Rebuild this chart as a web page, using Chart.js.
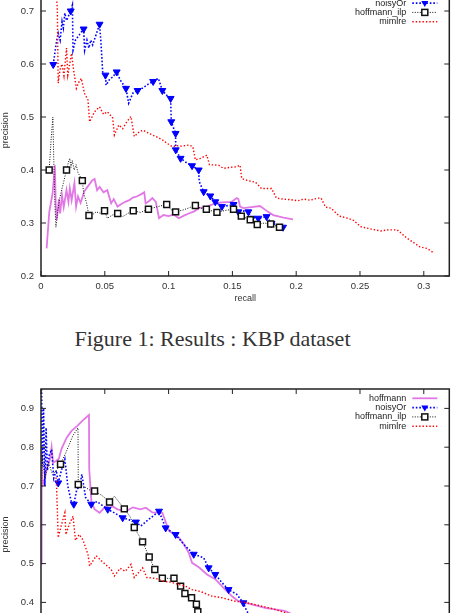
<!DOCTYPE html>
<html>
<head>
<meta charset="utf-8">
<script src="https://cdn.jsdelivr.net/npm/chart.js@4.4.0/dist/chart.umd.min.js"></script>
<style>
  html, body { margin: 0; padding: 0; width: 455px; height: 613px; overflow: hidden; background: #fff; }
  .wrap { position: absolute; left: 0; width: 455px; height: 360px; }
  #kbp-wrap { top: -40px; }
  #riedel-wrap { top: 360px; }
  #caption { position: absolute; left: 0; top: 327px; width: 425px; line-height: 24px; text-align: center;
             font-family: "Liberation Serif", "Times New Roman", serif; font-size: 22px; color: #333; }
</style>
</head>
<body>
<div id="kbp-wrap" class="wrap"><canvas id="kbp" width="455" height="360"></canvas></div>
<div id="caption">Figure 1: Results : KBP dataset</div>
<div id="riedel-wrap" class="wrap"><canvas id="riedel" width="455" height="360"></canvas></div>
<script>
// ---- shared axis / legend text ----
const xTickValues = [0, 0.05, 0.1, 0.15, 0.2, 0.25, 0.3];
const kbpYTickValues = [0.2, 0.3, 0.4, 0.5, 0.6, 0.7];
const riedelYTickValues = [0.2, 0.3, 0.4, 0.5, 0.6, 0.7, 0.8, 0.9];
const legendLabels = ['hoffmann', 'noisyOr', 'hoffmann_ilp', 'mimlre'];

// ---- KBP (top chart) ----
const kbpHoffmannRecall = [0.0044, 0.0065, 0.0091, 0.0109, 0.0115, 0.0123, 0.0128, 0.0140, 0.0150, 0.0165, 0.0178, 0.0200, 0.0215, 0.0226, 0.0240, 0.0262, 0.0275, 0.0290, 0.0310, 0.0340, 0.0370, 0.0400, 0.0420, 0.0440, 0.0460, 0.0490, 0.0520, 0.0550, 0.0570, 0.0600, 0.0630, 0.0660, 0.0692, 0.0720, 0.0750, 0.0790, 0.0809, 0.0820, 0.0850, 0.0873, 0.0900, 0.0925, 0.0960, 0.1000, 0.1040, 0.1080, 0.1120, 0.1158, 0.1200, 0.1236, 0.1300, 0.1366, 0.1420, 0.1495, 0.1534, 0.1547, 0.1560, 0.1586, 0.1650, 0.1716, 0.1780, 0.1820, 0.1900, 0.1975];
const kbpHoffmannPrecision = [0.252, 0.321, 0.356, 0.409, 0.337, 0.306, 0.315, 0.345, 0.318, 0.352, 0.330, 0.362, 0.340, 0.365, 0.343, 0.375, 0.331, 0.350, 0.338, 0.360, 0.370, 0.380, 0.383, 0.362, 0.368, 0.358, 0.362, 0.337, 0.345, 0.331, 0.336, 0.340, 0.343, 0.348, 0.350, 0.355, 0.358, 0.337, 0.342, 0.347, 0.340, 0.309, 0.315, 0.313, 0.316, 0.309, 0.314, 0.318, 0.322, 0.328, 0.331, 0.337, 0.339, 0.340, 0.347, 0.345, 0.331, 0.328, 0.330, 0.332, 0.321, 0.315, 0.310, 0.307];

const kbpNoisyOrRecall = [0.0096, 0.0120, 0.0135, 0.0150, 0.0165, 0.0175, 0.0187, 0.0200, 0.0233, 0.0246, 0.0251, 0.0270, 0.0300, 0.0334, 0.0342, 0.0360, 0.0375, 0.0390, 0.0405, 0.0459, 0.0470, 0.0484, 0.0505, 0.0510, 0.0540, 0.0560, 0.0593, 0.0620, 0.0666, 0.0687, 0.0720, 0.0757, 0.0800, 0.0840, 0.0879, 0.0920, 0.0951, 0.0990, 0.1016, 0.1021, 0.1055, 0.1056, 0.1094, 0.1145, 0.1184, 0.1236, 0.1240, 0.1275, 0.1327, 0.1366, 0.1418, 0.1470, 0.1509, 0.1547, 0.1600, 0.1625, 0.1651, 0.1703, 0.1768, 0.1807, 0.1850, 0.1897];
const kbpNoisyOrPrecision = [0.599, 0.640, 0.658, 0.645, 0.680, 0.668, 0.696, 0.682, 0.700, 0.711, 0.626, 0.645, 0.655, 0.666, 0.626, 0.645, 0.630, 0.645, 0.636, 0.675, 0.640, 0.582, 0.579, 0.560, 0.572, 0.575, 0.585, 0.570, 0.554, 0.526, 0.545, 0.550, 0.555, 0.562, 0.567, 0.573, 0.550, 0.540, 0.535, 0.491, 0.469, 0.438, 0.422, 0.413, 0.408, 0.400, 0.378, 0.359, 0.351, 0.340, 0.331, 0.333, 0.335, 0.321, 0.323, 0.321, 0.309, 0.309, 0.312, 0.299, 0.297, 0.292];
const kbpNoisyOrMarkRecall = [0.0096, 0.0233, 0.0334, 0.0459, 0.0505, 0.0593, 0.0666, 0.0757, 0.0879, 0.0951, 0.1016, 0.1021, 0.1055, 0.1056, 0.1094, 0.1184, 0.1236, 0.1275, 0.1327, 0.1366, 0.1418, 0.1509, 0.1547, 0.1625, 0.1651, 0.1703, 0.1768, 0.1807, 0.1897];
const kbpNoisyOrMarkPrecision = [0.599, 0.700, 0.666, 0.675, 0.579, 0.585, 0.554, 0.550, 0.567, 0.550, 0.535, 0.491, 0.469, 0.438, 0.422, 0.408, 0.400, 0.359, 0.351, 0.340, 0.331, 0.335, 0.321, 0.321, 0.309, 0.309, 0.312, 0.299, 0.292];

const kbpIlpRecall = [0.0064, 0.0080, 0.0093, 0.0100, 0.0110, 0.0117, 0.0130, 0.0145, 0.0160, 0.0175, 0.0190, 0.0200, 0.0215, 0.0226, 0.0235, 0.0245, 0.0260, 0.0275, 0.0290, 0.0324, 0.0335, 0.0342, 0.0355, 0.0376, 0.0400, 0.0433, 0.0470, 0.0498, 0.0520, 0.0560, 0.0601, 0.0640, 0.0680, 0.0723, 0.0780, 0.0842, 0.0900, 0.0985, 0.1020, 0.1055, 0.1120, 0.1210, 0.1250, 0.1296, 0.1379, 0.1450, 0.1509, 0.1570, 0.1640, 0.1695, 0.1750, 0.1800, 0.1869];
const kbpIlpPrecision = [0.400, 0.460, 0.500, 0.420, 0.330, 0.292, 0.320, 0.345, 0.360, 0.375, 0.390, 0.400, 0.415, 0.422, 0.405, 0.418, 0.400, 0.410, 0.395, 0.380, 0.355, 0.350, 0.340, 0.314, 0.315, 0.321, 0.318, 0.323, 0.309, 0.315, 0.318, 0.312, 0.318, 0.323, 0.320, 0.326, 0.330, 0.335, 0.325, 0.321, 0.325, 0.333, 0.328, 0.326, 0.320, 0.324, 0.326, 0.313, 0.306, 0.297, 0.300, 0.298, 0.292];
const kbpIlpMarkRecall = [0.0064, 0.0200, 0.0324, 0.0376, 0.0498, 0.0601, 0.0723, 0.0842, 0.0985, 0.1055, 0.1210, 0.1296, 0.1379, 0.1509, 0.1570, 0.1640, 0.1695, 0.1800, 0.1869];
const kbpIlpMarkPrecision = [0.400, 0.400, 0.380, 0.314, 0.323, 0.318, 0.323, 0.326, 0.335, 0.321, 0.333, 0.326, 0.320, 0.326, 0.313, 0.306, 0.297, 0.298, 0.292];

const kbpMimlreRecall = [0.0118, 0.0128, 0.0135, 0.0150, 0.0165, 0.0180, 0.0200, 0.0210, 0.0225, 0.0239, 0.0255, 0.0277, 0.0295, 0.0316, 0.0340, 0.0368, 0.0381, 0.0420, 0.0459, 0.0490, 0.0520, 0.0562, 0.0575, 0.0610, 0.0640, 0.0670, 0.0705, 0.0731, 0.0770, 0.0800, 0.0840, 0.0873, 0.0910, 0.0951, 0.0990, 0.1029, 0.1060, 0.1100, 0.1158, 0.1190, 0.1210, 0.1250, 0.1300, 0.1320, 0.1392, 0.1431, 0.1480, 0.1534, 0.1560, 0.1573, 0.1620, 0.1680, 0.1729, 0.1807, 0.1845, 0.1900, 0.1960, 0.2014, 0.2060, 0.2110, 0.2169, 0.2195, 0.2230, 0.2273, 0.2338, 0.2403, 0.2450, 0.2506, 0.2580, 0.2662, 0.2720, 0.2792, 0.2870, 0.2921, 0.2970, 0.3025, 0.3077];
const kbpMimlrePrecision = [0.750, 0.700, 0.564, 0.590, 0.600, 0.578, 0.630, 0.579, 0.600, 0.620, 0.590, 0.554, 0.565, 0.573, 0.545, 0.532, 0.491, 0.510, 0.519, 0.505, 0.510, 0.498, 0.466, 0.485, 0.478, 0.490, 0.501, 0.463, 0.472, 0.475, 0.470, 0.466, 0.462, 0.457, 0.450, 0.444, 0.446, 0.445, 0.447, 0.444, 0.419, 0.422, 0.428, 0.410, 0.409, 0.403, 0.405, 0.406, 0.409, 0.384, 0.380, 0.377, 0.365, 0.365, 0.347, 0.345, 0.344, 0.342, 0.345, 0.343, 0.347, 0.347, 0.330, 0.328, 0.313, 0.309, 0.305, 0.293, 0.289, 0.285, 0.287, 0.287, 0.271, 0.263, 0.255, 0.252, 0.244];

// ---- second dataset (bottom chart) ----
const riedelHoffmannRecall = [0.0003, 0.0005, 0.0010, 0.0030, 0.0050, 0.0070, 0.0083, 0.0095, 0.0120, 0.0140, 0.0160, 0.0200, 0.0239, 0.0285, 0.0330, 0.0376, 0.0378, 0.0395, 0.0420, 0.0459, 0.0500, 0.0537, 0.0600, 0.0666, 0.0720, 0.0780, 0.0822, 0.0873, 0.0951, 0.1003, 0.1081, 0.1120, 0.1158, 0.1184, 0.1240, 0.1301, 0.1366, 0.1444, 0.1500, 0.1547, 0.1651, 0.1755, 0.1910, 0.2000];
const riedelHoffmannPrecision = [0.500, 0.800, 0.700, 0.720, 0.750, 0.769, 0.800, 0.760, 0.765, 0.770, 0.795, 0.824, 0.842, 0.855, 0.870, 0.883, 0.743, 0.660, 0.640, 0.631, 0.645, 0.652, 0.640, 0.635, 0.645, 0.640, 0.644, 0.632, 0.631, 0.584, 0.567, 0.550, 0.528, 0.502, 0.490, 0.472, 0.460, 0.433, 0.415, 0.403, 0.395, 0.386, 0.378, 0.365];

const riedelNoisyOrRecall = [0.0005, 0.0010, 0.0020, 0.0030, 0.0040, 0.0050, 0.0065, 0.0083, 0.0100, 0.0120, 0.0135, 0.0160, 0.0187, 0.0210, 0.0239, 0.0257, 0.0280, 0.0303, 0.0320, 0.0350, 0.0394, 0.0440, 0.0480, 0.0523, 0.0580, 0.0640, 0.0700, 0.0744, 0.0783, 0.0830, 0.0925, 0.0977, 0.1055, 0.1120, 0.1197, 0.1275, 0.1314, 0.1366, 0.1418, 0.1470, 0.1534, 0.1586, 0.1612, 0.1650];
const riedelNoisyOrPrecision = [0.950, 0.750, 0.900, 0.700, 0.850, 0.740, 0.780, 0.794, 0.720, 0.740, 0.708, 0.740, 0.769, 0.700, 0.657, 0.653, 0.690, 0.700, 0.730, 0.670, 0.653, 0.660, 0.650, 0.640, 0.630, 0.618, 0.612, 0.607, 0.597, 0.610, 0.635, 0.592, 0.575, 0.549, 0.524, 0.515, 0.489, 0.472, 0.451, 0.433, 0.421, 0.399, 0.378, 0.360];
const riedelNoisyOrMarkRecall = [0.0135, 0.0257, 0.0394, 0.0523, 0.0640, 0.0744, 0.0925, 0.0977, 0.1055, 0.1197, 0.1314, 0.1366, 0.1470, 0.1586];
const riedelNoisyOrMarkPrecision = [0.708, 0.653, 0.653, 0.640, 0.618, 0.607, 0.635, 0.592, 0.575, 0.524, 0.489, 0.472, 0.433, 0.399];

const riedelIlpRecall = [0.0005, 0.0010, 0.0030, 0.0060, 0.0090, 0.0120, 0.0153, 0.0200, 0.0250, 0.0290, 0.0292, 0.0330, 0.0380, 0.0420, 0.0480, 0.0537, 0.0575, 0.0653, 0.0700, 0.0731, 0.0796, 0.0848, 0.0892, 0.0951, 0.1042, 0.1094, 0.1128, 0.1180, 0.1218, 0.1229, 0.1270];
const riedelIlpPrecision = [0.700, 0.780, 0.720, 0.760, 0.730, 0.740, 0.756, 0.790, 0.830, 0.850, 0.704, 0.700, 0.690, 0.687, 0.675, 0.659, 0.674, 0.641, 0.620, 0.593, 0.556, 0.517, 0.485, 0.462, 0.462, 0.442, 0.423, 0.412, 0.395, 0.376, 0.360];
const riedelIlpMarkRecall = [0.0153, 0.0292, 0.0420, 0.0537, 0.0653, 0.0731, 0.0796, 0.0848, 0.0892, 0.0951, 0.1042, 0.1094, 0.1128, 0.1180, 0.1218, 0.1229];
const riedelIlpMarkPrecision = [0.756, 0.704, 0.687, 0.659, 0.641, 0.593, 0.556, 0.517, 0.485, 0.462, 0.462, 0.442, 0.423, 0.412, 0.395, 0.376];

const riedelMimlreRecall = [0.0118, 0.0122, 0.0135, 0.0160, 0.0187, 0.0195, 0.0220, 0.0251, 0.0270, 0.0300, 0.0330, 0.0368, 0.0381, 0.0433, 0.0480, 0.0550, 0.0575, 0.0620, 0.0660, 0.0705, 0.0731, 0.0796, 0.0830, 0.0900, 0.0951, 0.1020, 0.1081, 0.1130, 0.1184, 0.1250, 0.1340, 0.1420, 0.1522, 0.1600, 0.1800, 0.2000];
const riedelMimlrePrecision = [0.722, 0.700, 0.567, 0.600, 0.631, 0.575, 0.600, 0.622, 0.560, 0.575, 0.560, 0.524, 0.494, 0.520, 0.505, 0.485, 0.468, 0.488, 0.480, 0.498, 0.464, 0.489, 0.464, 0.462, 0.455, 0.452, 0.446, 0.442, 0.433, 0.428, 0.416, 0.412, 0.403, 0.400, 0.385, 0.365];

// ---- styles ----
const seriesStyle = {
  hoffmann: { color: 'rgb(225,120,230)', width: 1.8, dash: [], order: 4 },
  noisyOr: { color: '#0000ff', width: 1.6, dash: [1.6, 1.9], order: 3, mark: 'tri' },
  hoffmann_ilp: { color: '#111', width: 1, dash: [1, 1.5], order: 2, mark: 'square' },
  mimlre: { color: '#ff0000', width: 1.4, dash: [1.4, 2], order: 1 }
};

function zip(xs, ys) {
  return xs.map((x, i) => ({ x: x, y: ys[i] }));
}

function lineSet(name, xs, ys) {
  const s = seriesStyle[name];
  return {
    label: name, data: zip(xs, ys), showLine: true, pointRadius: 0,
    borderColor: s.color, borderWidth: s.width, borderDash: s.dash,
    tension: 0, order: s.order + 0.5
  };
}

function markSet(name, xs, ys) {
  const s = seriesStyle[name];
  const tri = s.mark === 'tri';
  return {
    label: '', data: zip(xs, ys), showLine: false,
    pointStyle: tri ? 'triangle' : 'rect', rotation: tri ? 180 : 0,
    pointRadius: tri ? 4 : 4.2,
    backgroundColor: tri ? s.color : '#fff', borderColor: s.color,
    pointBorderWidth: tri ? 1 : 1.5, order: s.order
  };
}

function drawMark(ctx, kind, x, y, color) {
  ctx.save();
  ctx.setLineDash([]);
  if (kind === 'tri') {
    ctx.fillStyle = color;
    ctx.beginPath();
    ctx.moveTo(x - 3.5, y - 2);
    ctx.lineTo(x + 3.5, y - 2);
    ctx.lineTo(x, y + 4);
    ctx.closePath();
    ctx.fill();
  } else if (kind === 'square') {
    ctx.fillStyle = '#fff';
    ctx.strokeStyle = color;
    ctx.lineWidth = 1.5;
    ctx.fillRect(x - 3, y - 3, 6, 6);
    ctx.strokeRect(x - 3, y - 3, 6, 6);
  }
  ctx.restore();
}

// gnuplot-like frame: border, inward ticks on all four sides, key at top right
const gnuFrame = {
  id: 'gnuFrame',
  afterDraw(chart) {
    const { ctx, chartArea: a, scales } = chart;
    const x = scales.x, y = scales.y;
    ctx.save();
    ctx.strokeStyle = '#222';
    ctx.lineWidth = 1;
    ctx.beginPath();
    x.ticks.forEach(t => {
      const px = x.getPixelForValue(t.value);
      ctx.moveTo(px, a.bottom); ctx.lineTo(px, a.bottom - 5);
      ctx.moveTo(px, a.top); ctx.lineTo(px, a.top + 5);
    });
    y.ticks.forEach(t => {
      const py = y.getPixelForValue(t.value);
      ctx.moveTo(a.left, py); ctx.lineTo(a.left + 5, py);
      ctx.moveTo(a.right, py); ctx.lineTo(a.right - 5, py);
    });
    ctx.stroke();
    ctx.lineWidth = 1.5;
    ctx.strokeRect(a.left, a.top, a.right - a.left, a.bottom - a.top);

    // key
    ctx.font = '9px "Liberation Sans", Arial, sans-serif';
    ctx.textAlign = 'right';
    ctx.textBaseline = 'middle';
    legendLabels.forEach((name, i) => {
      const s = seriesStyle[name];
      const ly = a.top + 9.3 * (i + 1);
      ctx.fillStyle = '#222';
      ctx.fillText(name, a.right - 43, ly);
      ctx.strokeStyle = s.color;
      ctx.lineWidth = s.width;
      ctx.setLineDash(s.dash);
      ctx.beginPath();
      ctx.moveTo(a.right - 37, ly);
      ctx.lineTo(a.right - 12, ly);
      ctx.stroke();
      ctx.setLineDash([]);
      if (s.mark) drawMark(ctx, s.mark, a.right - 24.5, ly, s.color);
    });
    ctx.restore();
  }
};

const tickFont = { family: '"Liberation Sans", Arial, sans-serif', size: 9.5 };
const titleFont = { family: '"Liberation Sans", Arial, sans-serif', size: 9 };

function makeChart(id, datasets, yMin, yMax, yTicks, padTop, xAxisHeight) {
  return new Chart(document.getElementById(id), {
    type: 'scatter',
    data: { datasets: datasets },
    options: {
      responsive: false,
      animation: false,
      events: [],
      layout: { padding: { left: 0, right: 3, top: padTop, bottom: 0 } },
      plugins: { legend: { display: false }, tooltip: { enabled: false } },
      scales: {
        x: {
          type: 'linear', min: 0, max: 0.32,
          grid: { display: false, drawTicks: false }, border: { display: false },
          afterBuildTicks: s => { s.ticks = xTickValues.map(v => ({ value: v })); },
          afterFit: s => { s.height = xAxisHeight; },
          ticks: { padding: 5, color: '#333', font: tickFont, maxRotation: 0, autoSkip: false, callback: v => String(v) },
          title: { display: true, text: 'recall', color: '#333', font: titleFont, padding: { top: 0, bottom: 15.6 } }
        },
        y: {
          type: 'linear', min: yMin, max: yMax,
          grid: { display: false, drawTicks: false }, border: { display: false },
          afterBuildTicks: s => { s.ticks = yTicks.map(v => ({ value: v })); },
          afterFit: s => { s.width = 41; },
          ticks: { padding: 7, color: '#333', font: tickFont, autoSkip: false, callback: v => String(v) },
          title: { display: true, text: 'precision', color: '#333', font: titleFont, padding: { top: 0, bottom: 0 } }
        }
      }
    },
    plugins: [gnuFrame]
  });
}

makeChart('kbp', [
  lineSet('hoffmann', kbpHoffmannRecall, kbpHoffmannPrecision),
  lineSet('noisyOr', kbpNoisyOrRecall, kbpNoisyOrPrecision),
  markSet('noisyOr', kbpNoisyOrMarkRecall, kbpNoisyOrMarkPrecision),
  lineSet('hoffmann_ilp', kbpIlpRecall, kbpIlpPrecision),
  markSet('hoffmann_ilp', kbpIlpMarkRecall, kbpIlpMarkPrecision),
  lineSet('mimlre', kbpMimlreRecall, kbpMimlrePrecision)
], 0.2, 0.75, kbpYTickValues, 24.5, 44);

makeChart('riedel', [
  lineSet('hoffmann', riedelHoffmannRecall, riedelHoffmannPrecision),
  lineSet('noisyOr', riedelNoisyOrRecall, riedelNoisyOrPrecision),
  markSet('noisyOr', riedelNoisyOrMarkRecall, riedelNoisyOrMarkPrecision),
  lineSet('hoffmann_ilp', riedelIlpRecall, riedelIlpPrecision),
  markSet('hoffmann_ilp', riedelIlpMarkRecall, riedelIlpMarkPrecision),
  lineSet('mimlre', riedelMimlreRecall, riedelMimlrePrecision)
], 0.2, 0.95, riedelYTickValues, 29, 40);
</script>
</body>
</html>
